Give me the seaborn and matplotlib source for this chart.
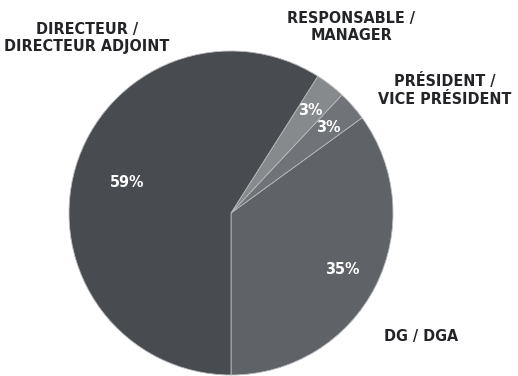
import matplotlib
matplotlib.use("Agg")
import matplotlib.pyplot as plt
import seaborn as sns
import numpy as np

# Job titles and their share of respondents (%)
categories = ["DG / DGA", "PRÉSIDENT /\nVICE PRÉSIDENT", "RESPONSABLE /\nMANAGER",
              "DIRECTEUR /\nDIRECTEUR ADJOINT"]
values = [35, 3, 3, 59]
pct_labels = ["35%", "3%", "3%", "59%"]

sns.set_theme(style="white")
plt.rcParams["font.family"] = ["DejaVu Sans"]
plt.rcParams["font.stretch"] = "condensed"

colors = ["#5f6266", "#707377", "#878a8d", "#484b4f"]

fig = plt.figure(figsize=(5.18, 3.76), dpi=100)
ax = fig.add_axes([69 / 518, 1 / 376, 324 / 518, 324 / 376])

wedges, _ = ax.pie(values, colors=colors, startangle=-90, counterclock=True,
                   wedgeprops=dict(edgecolor="#b8babc", linewidth=0.6))
ax.set_xlim(-1, 1)
ax.set_ylim(-1, 1)
ax.set_aspect("equal")
ax.axis("off")

# percentage labels inside each wedge
radii = [0.77, 0.8, 0.8, 0.67]
for w, lab, r in zip(wedges, pct_labels, radii):
    th = np.deg2rad((w.theta1 + w.theta2) / 2)
    ax.text(r * np.cos(th), r * np.sin(th), lab, ha="center", va="center",
            color="white", fontsize=11.5, fontweight="bold", fontstretch="condensed")

# category names around the pie: (x, y, horizontal anchor)
label_pos = [(421, 337, "center"), (511, 90, "right"), (351, 27, "center"),
             (87, 38, "center")]
for (px, py, ha), name in zip(label_pos, categories):
    fig.text(px / 518, 1 - py / 376, name, ha=ha, va="center",
             multialignment="center", color="#232427", fontsize=11.5,
             fontweight="bold", fontstretch="condensed", linespacing=1.2)

fig.savefig("out.png", dpi=100)
